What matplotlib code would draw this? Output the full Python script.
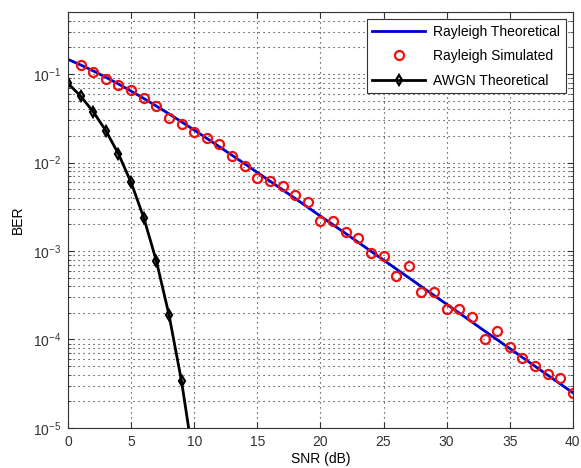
import matplotlib
matplotlib.use("Agg")
import matplotlib.pyplot as plt
from matplotlib.ticker import LogLocator, NullFormatter, FixedLocator

plt.rcParams['font.family'] = ['Liberation Sans', 'DejaVu Sans']
plt.rcParams['mathtext.fontset'] = 'custom'
plt.rcParams['mathtext.rm'] = 'Liberation Sans'

snr_theory = list(range(0, 41))
rayleigh_theory = [0.14645, 0.12673, 0.10848, 0.09192, 0.07714, 0.06418, 0.05300, 0.04348,
                   0.03546, 0.02878, 0.02327, 0.01875, 0.01506, 0.01208, 0.00967, 0.00772,
                   0.00617, 0.00492, 0.00392, 0.00312, 0.00248, 0.00198, 0.001577, 0.001253,
                   0.000995, 0.000791, 0.000628, 0.000499, 0.000396, 0.000315, 0.000250,
                   0.000199, 0.000158, 0.000125, 0.0000995, 0.0000791, 0.0000628, 0.0000499,
                   0.0000396, 0.0000315, 0.0000250]

snr_sim = list(range(1, 41))
rayleigh_sim = [0.126, 0.105, 0.087, 0.076, 0.066, 0.053, 0.043, 0.032, 0.027, 0.022,
                0.0188, 0.016, 0.012, 0.0092, 0.0067, 0.0062, 0.0054, 0.0043, 0.0036, 0.0022,
                0.0022, 0.00165, 0.00142, 0.00095, 0.00087, 0.00052, 0.00068, 0.00034, 0.00034, 0.00022,
                0.00022, 0.00018, 0.000100, 0.000126, 0.000083, 0.000062, 0.000050, 0.000041, 0.000037, 0.000025]

snr_awgn = list(range(0, 11))
awgn_theory = [0.0786, 0.0563, 0.0375, 0.0229, 0.0125, 0.00595, 0.00239, 0.000773,
               0.000191, 0.0000336, 0.00000387]

fig = plt.figure(figsize=(5.81, 4.68), dpi=100)
ax = fig.add_axes([0.117, 0.0855, 0.869, 0.8885])

ax.semilogy(snr_theory, rayleigh_theory, '-', color='#0000cc', lw=2, label='Rayleigh Theoretical')
ax.semilogy(snr_sim, rayleigh_sim, 'o', color='#ee1111', mfc='none', mew=1.6, ms=6.5,
            label='Rayleigh Simulated')
ax.semilogy(snr_awgn, awgn_theory, '-d', color='black', lw=2, mfc='none', mew=1.6, ms=5.5,
            label='AWGN Theoretical')

ax.set_xlim(0, 40)
ax.set_ylim(1e-5, 0.5)
ax.xaxis.set_major_locator(FixedLocator([0, 5, 10, 15, 20, 25, 30, 35, 40]))
ax.yaxis.set_major_locator(LogLocator(base=10, numticks=10))
ax.yaxis.set_minor_locator(LogLocator(base=10, subs=range(2, 10), numticks=20))
ax.yaxis.set_minor_formatter(NullFormatter())

grid_kw = dict(linestyle=(0, (1, 3.5)), color='#222222', lw=0.8)
ax.grid(True, which='major', **grid_kw)
ax.grid(True, which='minor', axis='y', **grid_kw)
ax.tick_params(which='both', direction='in', top=True, right=True, labelsize=10, colors='#333333')
ax.tick_params(which='major', length=4, pad=5)
ax.tick_params(which='minor', length=2)
for s in ax.spines.values():
    s.set_color('#333333')

ax.set_xlabel('SNR (dB)', fontsize=10, labelpad=2)
ax.set_ylabel('BER', fontsize=10, labelpad=6)

leg = ax.legend(loc='upper right', fontsize=10, fancybox=False, edgecolor='#333333',
                framealpha=1, borderaxespad=0.5, handlelength=3.8, handletextpad=0.6,
                labelspacing=0.75, borderpad=0.4)
leg.get_frame().set_linewidth(0.8)

fig.savefig('out.png', dpi=100, facecolor='white')
